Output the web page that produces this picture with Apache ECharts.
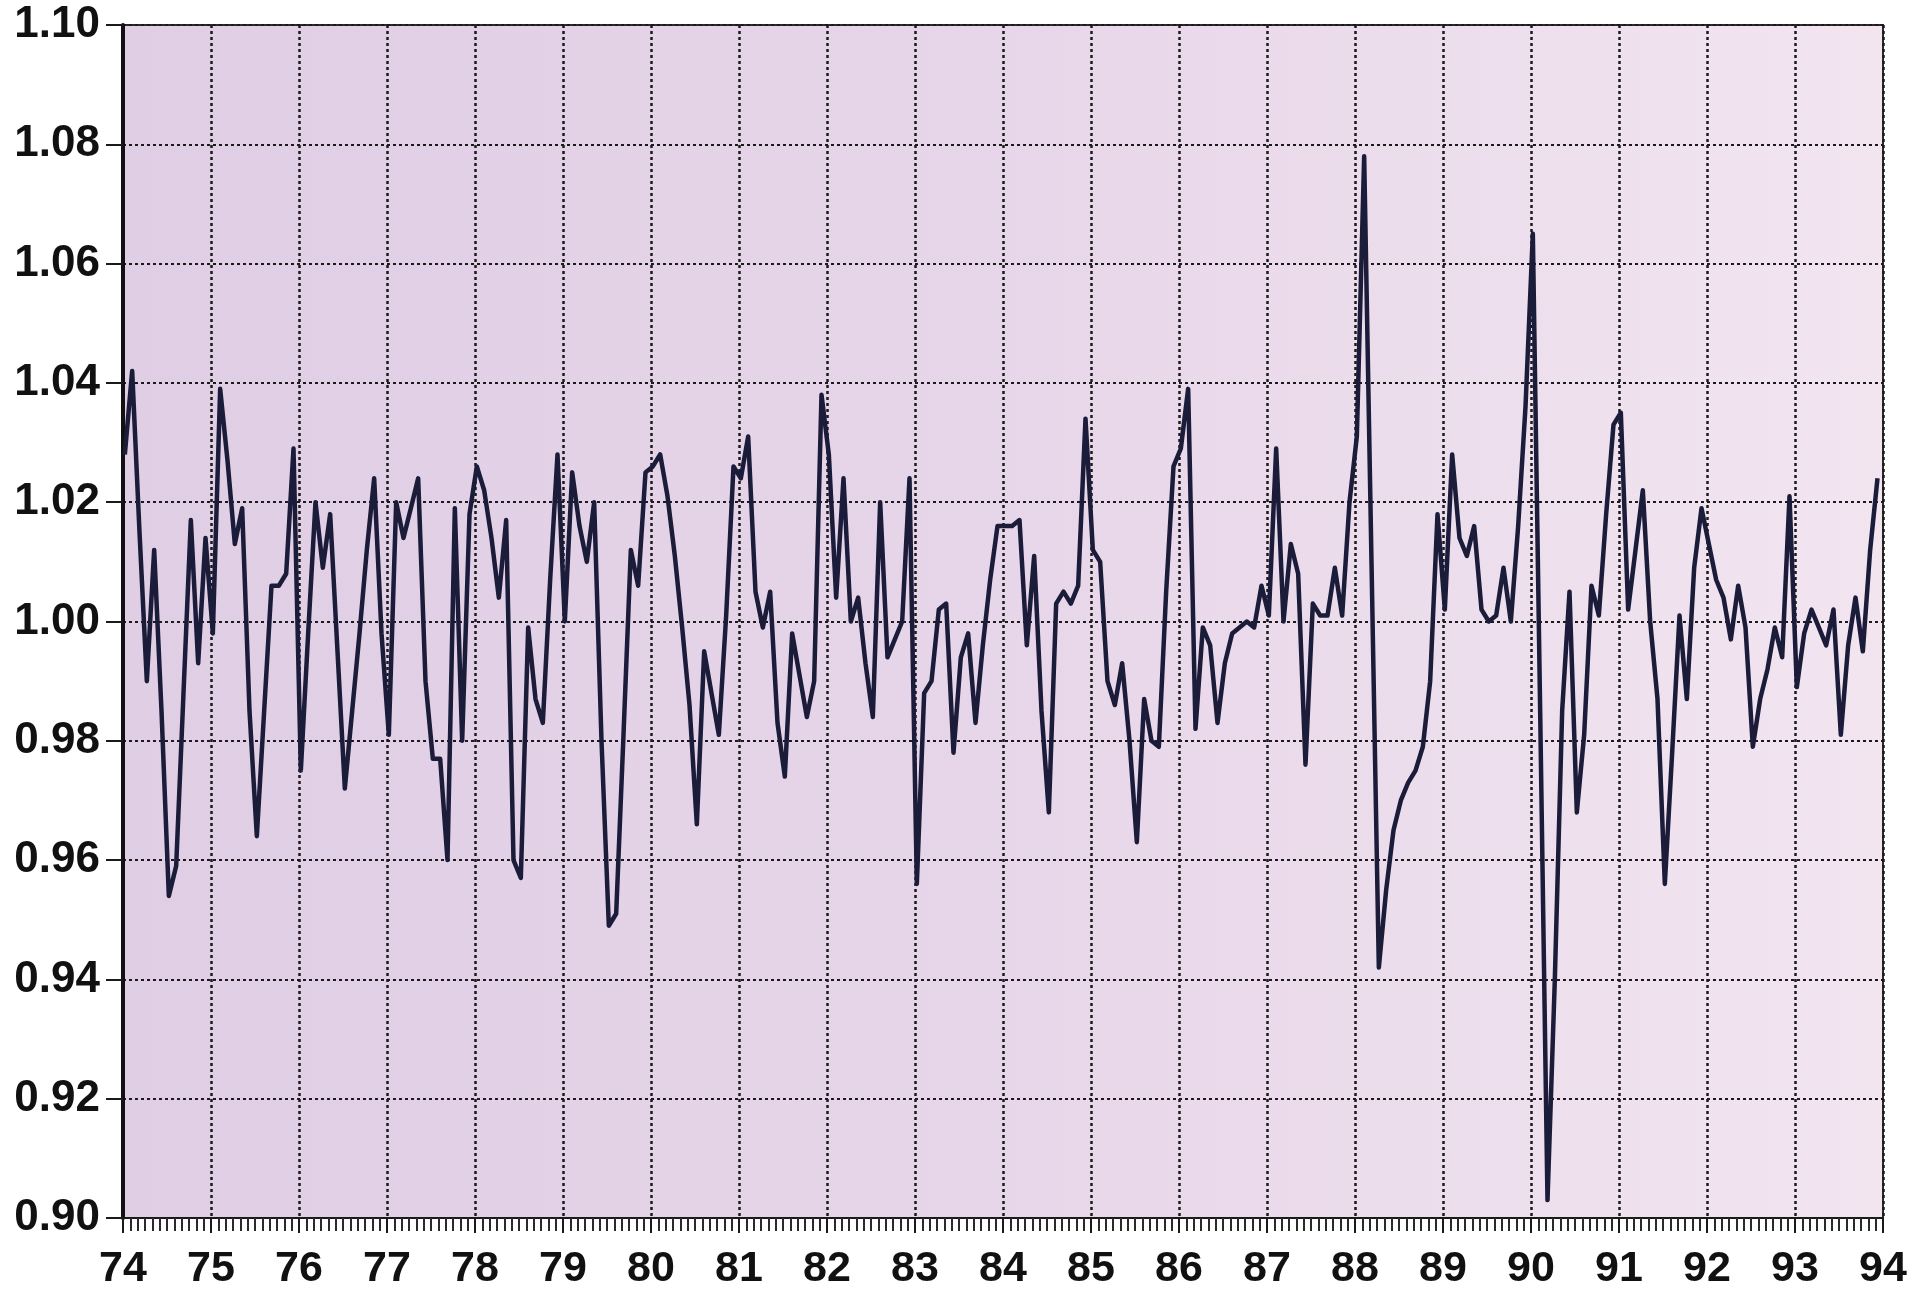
<!DOCTYPE html>
<html>
<head>
<meta charset="utf-8">
<script src="https://cdn.jsdelivr.net/npm/echarts@6/dist/echarts.min.js"></script>
<style>html,body{margin:0;padding:0;background:#fff}#c{width:1930px;height:1291px}</style>
</head>
<body>
<div id="c"></div>
<script>
// Monthly values, one array per year (Jan..Dec)
const y74 = [1.028, 1.042, 1.015, 0.990, 1.012, 0.985, 0.954, 0.959, 0.988, 1.017, 0.993, 1.014];
const y75 = [0.998, 1.039, 1.027, 1.013, 1.019, 0.985, 0.964, 0.985, 1.006, 1.006, 1.008, 1.029];
const y76 = [0.975, 0.998, 1.020, 1.009, 1.018, 0.995, 0.972, 0.985, 0.998, 1.012, 1.024, 0.998];
const y77 = [0.981, 1.020, 1.014, 1.019, 1.024, 0.990, 0.977, 0.977, 0.960, 1.019, 0.980, 1.018];
const y78 = [1.026, 1.022, 1.014, 1.004, 1.017, 0.960, 0.957, 0.999, 0.987, 0.983, 1.007, 1.028];
const y79 = [1.000, 1.025, 1.016, 1.010, 1.020, 0.980, 0.949, 0.951, 0.981, 1.012, 1.006, 1.025];
const y80 = [1.026, 1.028, 1.021, 1.011, 0.999, 0.986, 0.966, 0.995, 0.988, 0.981, 1.001, 1.026];
const y81 = [1.024, 1.031, 1.005, 0.999, 1.005, 0.983, 0.974, 0.998, 0.991, 0.984, 0.990, 1.038];
const y82 = [1.028, 1.004, 1.024, 1.000, 1.004, 0.993, 0.984, 1.020, 0.994, 0.997, 1.000, 1.024];
const y83 = [0.956, 0.988, 0.990, 1.002, 1.003, 0.978, 0.994, 0.998, 0.983, 0.996, 1.007, 1.016];
const y84 = [1.016, 1.016, 1.017, 0.996, 1.011, 0.985, 0.968, 1.003, 1.005, 1.003, 1.006, 1.034];
const y85 = [1.012, 1.010, 0.990, 0.986, 0.993, 0.980, 0.963, 0.987, 0.980, 0.979, 1.005, 1.026];
const y86 = [1.029, 1.039, 0.982, 0.999, 0.996, 0.983, 0.993, 0.998, 0.999, 1.000, 0.999, 1.006];
const y87 = [1.001, 1.029, 1.000, 1.013, 1.008, 0.976, 1.003, 1.001, 1.001, 1.009, 1.001, 1.020];
const y88 = [1.031, 1.078, 1.010, 0.942, 0.955, 0.965, 0.970, 0.973, 0.975, 0.979, 0.990, 1.018];
const y89 = [1.002, 1.028, 1.014, 1.011, 1.016, 1.002, 1.000, 1.001, 1.009, 1.000, 1.016, 1.036];
const y90 = [1.065, 0.985, 0.903, 0.940, 0.985, 1.005, 0.968, 0.981, 1.006, 1.001, 1.018, 1.033];
const y91 = [1.035, 1.002, 1.012, 1.022, 1.000, 0.987, 0.956, 0.978, 1.001, 0.987, 1.009, 1.019];
const y92 = [1.013, 1.007, 1.004, 0.997, 1.006, 0.999, 0.979, 0.987, 0.992, 0.999, 0.994, 1.021];
const y93 = [0.989, 0.998, 1.002, 0.999, 0.996, 1.002, 0.981, 0.996, 1.004, 0.995, 1.012, 1.024];

const years = [74, 75, 76, 77, 78, 79, 80, 81, 82, 83, 84, 85, 86, 87, 88, 89, 90, 91, 92, 93];
const yearValues = [y74, y75, y76, y77, y78, y79, y80, y81, y82, y83, y84, y85, y86, y87, y88, y89, y90, y91, y92, y93];
const xTickLabels = ['74','75','76','77','78','79','80','81','82','83','84','85','86','87','88','89','90','91','92','93','94'];
const yTickLabels = ['0.90','0.92','0.94','0.96','0.98','1.00','1.02','1.04','1.06','1.08','1.10'];

const seriesData = [];
years.forEach(function (yr, j) {
  yearValues[j].forEach(function (v, m) {
    seriesData.push([yr + (m + 0.25) / 12, v]);
  });
});

const chart = echarts.init(document.getElementById('c'), null, { renderer: 'canvas' });
chart.setOption({
  animation: false,
  backgroundColor: '#ffffff',
  grid: {
    left: 123, right: 47, top: 25, bottom: 72,
    show: true,
    borderColor: '#2a2a2a',
    borderWidth: 2,
    backgroundColor: {
      type: 'linear', x: 0, y: 0, x2: 1, y2: 0,
      colorStops: [
        { offset: 0, color: '#dfcee4' },
        { offset: 0.5, color: '#e7d6e9' },
        { offset: 1, color: '#f2e5f0' }
      ]
    }
  },
  xAxis: {
    type: 'value',
    min: 74, max: 94, interval: 1,
    axisLine: { show: true, lineStyle: { color: '#1a1a1a', width: 2 } },
    axisTick: { show: true, length: 15, lineStyle: { color: '#1a1a1a', width: 2 } },
    minorTick: { show: true, splitNumber: 12, length: 13, lineStyle: { color: '#2a2a2a', width: 2 } },
    axisLabel: {
      margin: 30,
      fontFamily: 'Liberation Sans, Arial, sans-serif',
      fontWeight: 'bold',
      fontSize: 43,
      color: '#111',
      formatter: function (v) { return xTickLabels[Math.round(v) - 74]; }
    },
    splitLine: { show: true, lineStyle: { color: '#1a1a1a', width: 2.5, type: [3, 3] } }
  },
  yAxis: {
    type: 'value',
    min: 0.90, max: 1.10, interval: 0.02,
    axisLine: { show: true, lineStyle: { color: '#111', width: 4 } },
    axisTick: { show: true, length: 17, lineStyle: { color: '#1a1a1a', width: 2 } },
    axisLabel: {
      margin: 23,
      fontFamily: 'Liberation Sans, Arial, sans-serif',
      fontWeight: 'bold',
      fontSize: 44,
      color: '#111',
      padding: [6, 0, 0, 0],
      formatter: function (v) { return yTickLabels[Math.round((v - 0.90) / 0.02)]; }
    },
    splitLine: { show: true, lineStyle: { color: '#1a1a1a', width: 2, type: [3, 3] } }
  },
  series: [{
    type: 'line',
    data: seriesData,
    showSymbol: false,
    symbol: 'none',
    smooth: false,
    lineStyle: { color: '#1b1b3a', width: 4.5, join: 'round' }
  }]
});
</script>
</body>
</html>
